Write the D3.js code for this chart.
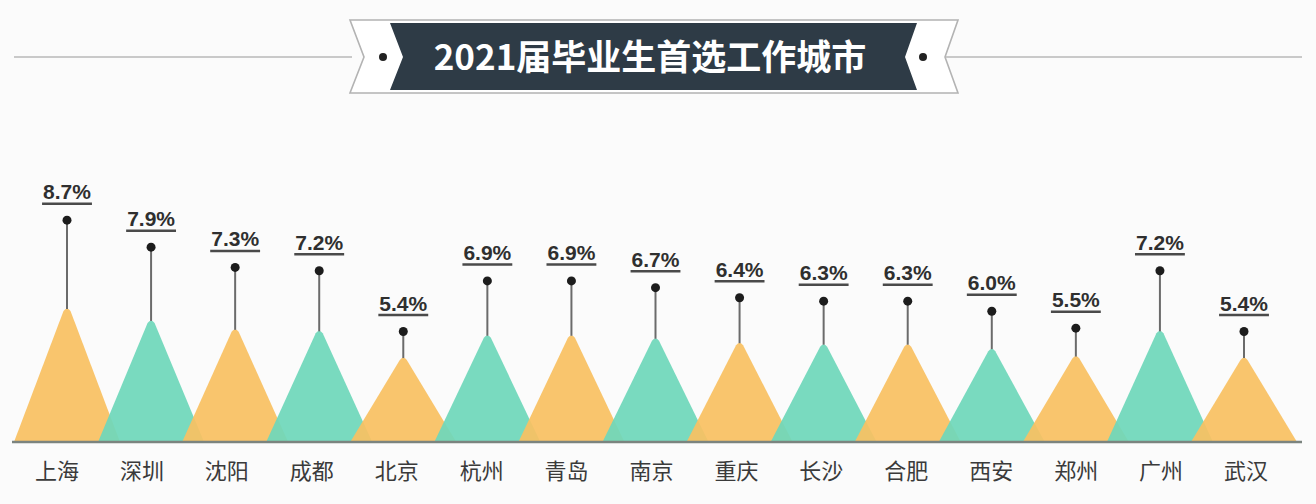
<!DOCTYPE html>
<html>
<head>
<meta charset="utf-8">
<script src="https://cdn.jsdelivr.net/npm/d3@7"></script>
<style>
  html, body { margin: 0; padding: 0; background: #fbfbfb; }
  svg { display: block; }
</style>
</head>
<body>
<svg id="chart" width="1316" height="504"></svg>
<script>
// ---- data ----
const title = "2021届毕业生首选工作城市";
const cities = ["上海","深圳","沈阳","成都","北京","杭州","青岛","南京","重庆","长沙","合肥","西安","郑州","广州","武汉"];
const shares = [8.7, 7.9, 7.3, 7.2, 5.4, 6.9, 6.9, 6.7, 6.4, 6.3, 6.3, 6.0, 5.5, 7.2, 5.4];
const valueLabels = ["8.7%","7.9%","7.3%","7.2%","5.4%","6.9%","6.9%","6.7%","6.4%","6.3%","6.3%","6.0%","5.5%","7.2%","5.4%"];

const data = cities.map((c, i) => ({ city: c, value: shares[i], label: valueLabels[i], i }));

// ---- layout ----
const W = 1316, H = 504;
const baseY = 442;
const svg = d3.select("#chart");
svg.append("rect").attr("width", W).attr("height", H).attr("fill", "#fbfbfb");

const x = d3.scalePoint().domain(cities).range([67, 1244]);
const xLabel = d3.scalePoint().domain(cities).range([57, 1246]);
const yPeak = d3.scaleLinear().domain([5, 9]).range([362, 302.6]);
const yDot = d3.scaleLinear().domain([5, 9]).range([345, 210]);

const colors = ["#F9C162", "#6FD7BA"];
const halfW = 53;

// ---- title banner ----
const g0 = svg.append("g");
g0.append("line").attr("x1", 14).attr("x2", 352).attr("y1", 57).attr("y2", 57)
  .attr("stroke", "#c9c9c9").attr("stroke-width", 2);
g0.append("line").attr("x1", 946).attr("x2", 1302).attr("y1", 57).attr("y2", 57)
  .attr("stroke", "#c9c9c9").attr("stroke-width", 2);
const line = d3.line();
g0.append("path")
  .attr("d", line([[350,20],[958,20],[945,57],[958,93],[350,93],[364,57]]) + "Z")
  .attr("fill", "#ffffff").attr("stroke", "#b3b3b3").attr("stroke-width", 1.6);
g0.append("path")
  .attr("d", line([[390,23],[917,23],[905,57],[917,90],[390,90],[403,57]]) + "Z")
  .attr("fill", "#2e3b46");
g0.selectAll("circle.bd").data([383, 923]).join("circle")
  .attr("cx", d => d).attr("cy", 57).attr("r", 4).attr("fill", "#222");
g0.append("text").attr("x", 650).attr("y", 57).attr("dy", "0.36em")
  .attr("text-anchor", "middle")
  .attr("font-family", "'Noto Sans CJK SC', 'Noto Sans', sans-serif")
  .attr("font-weight", "bold").attr("font-size", 35).attr("fill", "#ffffff")
  .text(title);

// ---- triangles ----
const gT = svg.append("g");
gT.selectAll("path.tri").data(data).join("path")
  .attr("class", "tri")
  .attr("d", d => {
    const cx = x(d.city), py = yPeak(d.value);
    return `M${cx - halfW},${baseY} L${cx - 3.5},${py + 4} Q${cx},${py - 1} ${cx + 3.5},${py + 4} L${cx + halfW},${baseY} Z`;
  })
  .attr("fill", d => colors[d.i % 2])
  .attr("fill-opacity", 0.93);

// baseline
svg.append("line").attr("x1", 12).attr("x2", 1302).attr("y1", baseY).attr("y2", baseY)
  .attr("stroke", "#7b847f").attr("stroke-width", 2.5);

// ---- stems, dots, labels ----
const gS = svg.append("g");
gS.selectAll("line.stem").data(data).join("line")
  .attr("x1", d => x(d.city)).attr("x2", d => x(d.city))
  .attr("y1", d => yDot(d.value)).attr("y2", d => yPeak(d.value) + 2)
  .attr("stroke", "#6b6b6b").attr("stroke-width", 2);
gS.selectAll("circle.dot").data(data).join("circle")
  .attr("cx", d => x(d.city)).attr("cy", d => yDot(d.value)).attr("r", 4.5)
  .attr("fill", "#1c1c1c");

const labels = gS.selectAll("text.val").data(data).join("text")
  .attr("x", d => x(d.city)).attr("y", d => yDot(d.value) - 21)
  .attr("text-anchor", "middle")
  .attr("font-family", "'Liberation Sans', Arial, sans-serif")
  .attr("font-weight", "bold").attr("font-size", 21).attr("fill", "#2f2f2f")
  .text(d => d.label);
labels.each(function(d) {
  const w = this.getComputedTextLength();
  gS.append("line")
    .attr("x1", x(d.city) - w / 2 - 1).attr("x2", x(d.city) + w / 2 + 1)
    .attr("y1", yDot(d.value) - 16.5).attr("y2", yDot(d.value) - 16.5)
    .attr("stroke", "#4a4a4a").attr("stroke-width", 2.5);
});

// ---- category labels ----
svg.append("g").selectAll("text.cat").data(data).join("text")
  .attr("x", d => xLabel(d.city)).attr("y", 479)
  .attr("text-anchor", "middle")
  .attr("font-family", "'Noto Sans CJK SC', sans-serif")
  .attr("font-size", 22).attr("fill", "#3a3a3a")
  .text(d => d.city);
</script>
</body>
</html>
